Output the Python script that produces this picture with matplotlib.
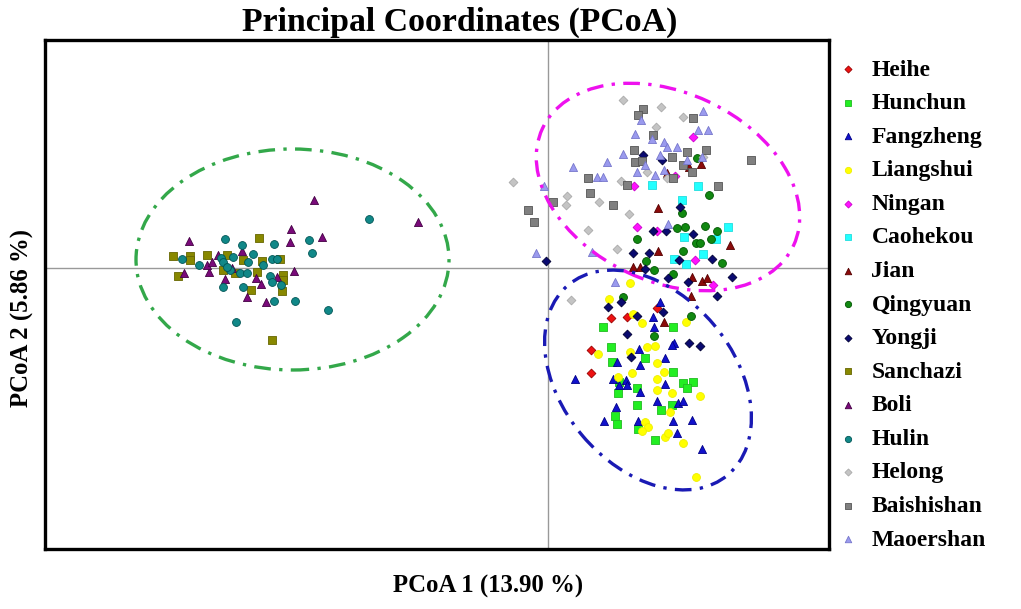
import matplotlib
matplotlib.use("Agg")
import matplotlib.pyplot as plt
from matplotlib.patches import Ellipse

plt.rcParams['font.family'] = ['Liberation Serif', 'DejaVu Serif']

# PCoA coordinates, per population
heihe_x = [0.627, 0.787, 1.093, 0.43, 0.43]
heihe_y = [-0.503, -0.487, -0.403, -0.82, -1.047]

hunchun_x = [0.553, 1.247, 0.627, 0.637, 0.97, 1.253, 0.713, 0.887, 0.697, 1.353,
             1.453, 1.387, 0.893, 1.127, 1.237, 0.67, 0.687, 0.903, 1.07]
hunchun_y = [-0.593, -0.593, -0.793, -0.937, -0.903, -1.043, -1.137, -1.203, -1.247, -1.153,
             -1.137, -1.203, -1.37, -1.42, -1.37, -1.48, -1.56, -1.613, -1.72]

fangzheng_x = [1.12, 1.047, 1.063, 1.26, 1.237, 0.913, 0.693, 0.92, 1.17, 0.27, 0.647, 0.78, 0.793,
               0.713, 0.92, 1.17, 1.087, 1.303, 1.347, 0.68, 0.56, 0.903, 1.253, 1.443, 1.287, 1.543]
fangzheng_y = [-0.337, -0.493, -0.587, -0.747, -0.77, -0.813, -0.937, -0.97, -0.903, -1.113, -1.113,
               -1.12, -1.17, -1.17, -1.237, -1.16, -1.327, -1.347, -1.327, -1.387, -1.527, -1.527,
               -1.527, -1.52, -1.647, -1.813]

liangshui_x = [0.613, 0.85, 0.937, 1.377, 0.503, 0.82, 0.993, 1.07, 1.087, 1.16, 0.837, 0.703, 1.087,
               1.237, 1.087, 1.52, 1.22, 0.97, 0.997, 0.937, 1.17, 1.203, 1.353, 1.48, 0.82]
liangshui_y = [-0.313, -0.46, -0.553, -0.537, -0.86, -0.837, -0.793, -0.78, -0.947, -1.037, -1.053,
               -1.087, -1.113, -1.253, -1.22, -1.28, -1.437, -1.537, -1.587, -1.63, -1.687, -1.653,
               -1.753, -2.087, -0.153]

ningan_x = [1.447, 0.863, 1.27, 0.893, 1.087, 1.47, 1.653]
ningan_y = [1.307, 0.82, 0.92, 0.413, 0.373, 0.08, -0.17]

caohekou_x = [1.04, 1.503, 1.343, 1.803, 1.363, 1.68, 1.547, 1.26, 1.377]
caohekou_y = [0.83, 0.82, 0.68, 0.407, 0.313, 0.287, 0.14, 0.087, 0.04]

jian_x = [1.413, 1.527, 1.187, 1.097, 1.103, 1.82, 0.853, 0.92, 1.437, 1.537, 1.587, 1.43, 1.16]
jian_y = [1.007, 1.04, 0.947, 0.597, 0.173, 0.23, 0.013, 0.013, -0.093, -0.127, -0.103, -0.28, -0.537]

qingyuan_x = [1.493, 1.613, 1.343, 1.287, 1.37, 1.57, 1.687, 0.893, 1.477, 1.52, 1.627, 1.347,
              1.737, 0.977, 1.063, 1.253, 0.747, 1.063, 1.427]
qingyuan_y = [1.097, 0.73, 0.547, 0.397, 0.407, 0.42, 0.373, 0.29, 0.253, 0.247, 0.287, 0.173,
              0.053, 0.073, -0.02, -0.06, -0.287, -0.68, -0.48]

yongji_x = [0.953, 1.137, 0.853, 1.013, 1.047, 1.18, 1.32, 1.453, 1.637, 1.837, 1.313, 0.97,
            1.203, 1.403, 1.687, -0.02, 0.603, 0.727, 0.887, 0.793, 0.827, 1.147, 1.413, 1.52]
yongji_y = [1.13, 1.08, 0.147, 0.147, 0.373, 0.373, 0.613, 0.34, 0.087, -0.093, 0.08, -0.013,
            -0.103, -0.137, -0.28, 0.073, -0.387, -0.337, -0.48, -0.66, -0.887, -0.437, -0.753, -0.78]

sanchazi_x = [-2.89, -3.75, -3.58, -3.58, -3.41, -3.21, -3.05, -2.86, -2.68, -3.25, -3.70, -2.65,
              -2.65, -2.66, -2.97, -2.76, -2.91, -3.13]
sanchazi_y = [0.30, 0.12, 0.12, 0.08, 0.13, 0.13, 0.08, 0.07, 0.09, -0.02, -0.08, -0.07,
              -0.12, -0.23, -0.22, -0.72, -0.04, -0.05]

boli_x = [-2.34, -1.30, -2.57, -2.26, -2.58, -3.59, -3.06, -3.64, -3.39, -3.41, -3.36, -2.54,
          -3.23, -2.92, -2.87, -3.01, -2.82, -2.71, -3.16, -3.30]
boli_y = [0.68, 0.46, 0.39, 0.31, 0.26, 0.27, 0.17, -0.05, -0.04, 0.03, 0.06, -0.03,
          -0.11, -0.10, -0.16, -0.29, -0.34, -0.09, 0.00, 0.13]

hulin_x = [-1.79, -3.23, -3.06, -2.74, -2.39, -2.36, -2.95, -3.66, -3.49, -3.27, -3.15, -3.00,
           -2.76, -2.71, -2.85, -3.18, -3.08, -3.01, -2.78, -2.76, -2.67, -3.25, -3.05, -2.74,
           -2.53, -2.20, -3.12, -3.25, -3.21]
hulin_y = [0.49, 0.29, 0.23, 0.24, 0.28, 0.15, 0.14, 0.09, 0.03, 0.10, 0.11, 0.06,
           0.09, 0.09, 0.03, -0.02, -0.05, -0.05, -0.08, -0.14, -0.17, -0.19, -0.19, -0.33,
           -0.33, -0.42, -0.54, 0.06, 0.01]

helong_x = [0.753, 1.127, 1.347, 1.08, 0.727, 0.987, 0.187, 0.18, 0.513, 0.813, 0.403, 0.693,
            0.227, 1.553, 1.187, -0.35]
helong_y = [1.68, 1.613, 1.513, 1.413, 0.873, 0.963, 0.72, 0.63, 0.663, 0.54, 0.38, 0.187,
            -0.32, 1.107, 0.897, 0.86]

baishishan_x = [0.953, 0.903, 1.447, 1.053, 0.863, 1.387, 1.577, 0.87, 0.937, 1.237, 1.353, 1.437,
                1.253, 1.703, 2.03, 0.403, 0.42, 0.793, 0.647, -0.197, -0.14, 0.053]
baishishan_y = [1.587, 1.53, 1.497, 1.33, 1.18, 1.163, 1.18, 1.063, 1.07, 1.107, 1.03, 0.963,
                0.897, 0.82, 1.08, 0.897, 0.747, 0.83, 0.63, 0.58, 0.463, 0.663]

maoershan_x = [1.547, 0.927, 1.503, 1.597, 0.87, 1.037, 1.16, 1.193, 1.287, 0.753, 1.12, 1.387,
               1.537, 0.593, 0.253, 0.887, 0.97, 1.07, 1.16, 0.487, 0.547, -0.037, 0.437, -0.12,
               0.67, 1.203]
maoershan_y = [1.573, 1.48, 1.38, 1.38, 1.34, 1.287, 1.263, 1.207, 1.213, 1.14, 1.13, 1.08,
               1.113, 1.063, 1.013, 0.963, 1.03, 0.93, 0.98, 0.913, 0.907, 0.82, 0.163, 0.153,
               -0.137, 0.44]

# name, x, y, marker, face, edge, size
groups = [
    ("Heihe", heihe_x, heihe_y, "D", "#ee1111", "#990000", 20),
    ("Hunchun", hunchun_x, hunchun_y, "s", "#22ee22", "#22bb22", 32),
    ("Fangzheng", fangzheng_x, fangzheng_y, "^", "#1111cc", "#000088", 34),
    ("Liangshui", liangshui_x, liangshui_y, "o", "#ffff00", "#eeee00", 32),
    ("Ningan", ningan_x, ningan_y, "D", "#ff11ff", "#cc00cc", 20),
    ("Caohekou", caohekou_x, caohekou_y, "s", "#22ffff", "#22dddd", 32),
    ("Jian", jian_x, jian_y, "^", "#8b0a0a", "#550000", 34),
    ("Qingyuan", qingyuan_x, qingyuan_y, "o", "#118811", "#005500", 32),
    ("Yongji", yongji_x, yongji_y, "D", "#0a0a70", "#000033", 20),
    ("Sanchazi", sanchazi_x, sanchazi_y, "s", "#888800", "#666600", 32),
    ("Boli", boli_x, boli_y, "^", "#7a0a7a", "#440044", 34),
    ("Hulin", hulin_x, hulin_y, "o", "#118888", "#005555", 32),
    ("Helong", helong_x, helong_y, "D", "#c4c4c4", "#aaaaaa", 20),
    ("Baishishan", baishishan_x, baishishan_y, "s", "#808080", "#555555", 32),
    ("Maoershan", maoershan_x, maoershan_y, "^", "#9a9aee", "#7777cc", 34),
]

# confidence ellipses: centre x, centre y, width, height, angle, colour
ell_cx = [-2.555, 1.20, 1.00]
ell_cy = [0.085, 0.81, -1.12]
ell_w = [3.13, 2.77, 2.48]
ell_h = [2.21, 1.89, 1.72]
ell_ang = [0, -25, -50]
ell_col = ["#33a84a", "#ee11ee", "#1a1ab4"]

fig = plt.figure(figsize=(10.21, 6.09), dpi=100)
ax = fig.add_axes([45/1021, 1-549/609, 784/1021, 509/609])

ax.axhline(0, color="#999999", lw=1.0, zorder=1)
ax.axvline(0, color="#999999", lw=1.0, zorder=1)

for i in range(3):
    e = Ellipse((ell_cx[i], ell_cy[i]), ell_w[i], ell_h[i], angle=ell_ang[i],
                fill=False, edgecolor=ell_col[i], lw=2.4, linestyle=(0, (5, 2.5, 1, 2.5)), zorder=4)
    ax.add_patch(e)

handles = []
for name, xs, ys, m, fc, ec, s in groups:
    h = ax.scatter(xs, ys, marker=m, s=s, facecolor=fc, edgecolor=ec, linewidths=0.6,
                   label=name, zorder=3)
    handles.append(h)

ax.set_xlim(-5.03, 2.81)
ax.set_ylim(-2.81, 2.28)
ax.set_xticks([])
ax.set_yticks([])
for sp in ax.spines.values():
    sp.set_linewidth(2.4)
    sp.set_color("black")

fig.legend(handles=handles, loc="upper left", bbox_to_anchor=(836/1021, 1-59/609),
           frameon=False, labelspacing=0.51, handlelength=1.0, handletextpad=0.5,
           markerscale=0.8, borderaxespad=0, borderpad=0,
           prop={"weight": "bold", "size": 17})

fig.text(460/1021, 1-31/609, "Principal Coordinates (PCoA)", ha="center", va="baseline",
         fontsize=24.3, fontweight="bold")
fig.text(488/1021, 1-586/609, "PCoA 1 (13.90 %)", ha="center", va="center",
         fontsize=17.8, fontweight="bold")
fig.text(22/1021, 1-318/609, "PCoA 2 (5.86 %)", ha="center", va="center",
         fontsize=17.8, fontweight="bold", rotation=90)

fig.savefig("out.png", dpi=100)
